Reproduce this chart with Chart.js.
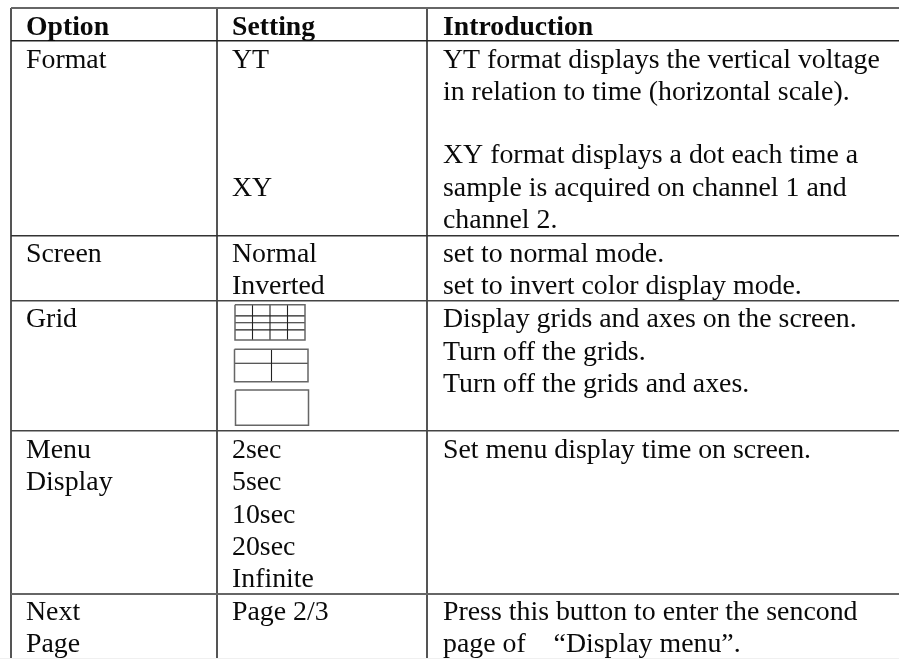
<!DOCTYPE html>
<html>
<head>
<meta charset="utf-8">
<title>Display menu</title>
<script src="https://cdn.jsdelivr.net/npm/chart.js@4/dist/chart.umd.min.js"></script>
<style>
  html, body { margin: 0; padding: 0; background: #f0f0f0; overflow: hidden; }
  canvas { display: block; background: #fff; }
</style>
</head>
<body>
<canvas id="menuTable" width="899" height="658"></canvas>
<script>
// How many text lines each table row takes, top to bottom
const rowNames = ['Header', 'Format', 'Screen', 'Grid', 'Menu Display', 'Next Page'];
const rowLineCounts = [1, 6, 2, 4, 5, 2];

// Where the baseline of each text line sits on the y axis
const lineBaselines = [0.83, 1.85, 2.83, 3.8, 4.77, 5.77, 6.77, 7.79, 8.79, 9.81, 10.81, 11.79, 12.8, 13.83, 14.81, 15.82, 16.81, 17.78, 18.8, 19.78];

// Text of each column and the line it sits on
const optionText = ['Option', 'Format', 'Screen', 'Grid', 'Menu', 'Display', 'Next', 'Page'];
const optionLines = [0, 1, 7, 9, 13, 14, 18, 19];
const settingText = ['Setting', 'YT', 'XY', 'Normal', 'Inverted', '2sec', '5sec', '10sec', '20sec', 'Infinite', 'Page 2/3'];
const settingLines = [0, 1, 5, 7, 8, 13, 14, 15, 16, 17, 18];
const introText = [
    'Introduction',
    'YT format displays the vertical voltage',
    'in relation to time (horizontal scale).',
    'XY format displays a dot each time a',
    'sample is acquired on channel 1 and',
    'channel 2.',
    'set to normal mode.',
    'set to invert color display mode.',
    'Display grids and axes on the screen.',
    'Turn off the grids.',
    'Turn off the grids and axes.',
    'Set menu display time on screen.',
    'Press this button to enter the sencond',
    'page of    \u201cDisplay menu\u201d.'
];
const introLines = [0, 1, 2, 4, 5, 6, 7, 8, 9, 10, 11, 13, 18, 19];

// Column rules on the x axis, measured from the table's left edge
const columnEdges = [0, 206, 416];
const columnTextX = [15, 221, 432];

// The three little grid pictures: left, right, top, bottom, inner verticals, inner horizontals
const gridIcons = [
    [224, 294, 9.115, 10.2, [241.5, 259, 276.5], [9.46, 9.67, 9.89]],
    [223.5, 297, 10.485, 11.48, [260.5], [10.915]],
    [224.5, 297.5, 11.735, 12.82, [], []]
];

const rowEdges = [0];
rowLineCounts.forEach((n, i) => rowEdges.push(rowEdges[i] + n));
rowEdges.pop();

function textPoints(texts, lines, x) {
    return texts.map((t, i) => ({ x: x, y: lineBaselines[lines[i]], text: t, bold: lines[i] === 0 }));
}

function iconFrame(icon) {
    const [l, r, t, b] = icon;
    return [{ x: l, y: t }, { x: r, y: t }, { x: r, y: b }, { x: l, y: b }, { x: l, y: t }];
}

function iconDividers(icon) {
    const [l, r, t, b, vs, hs] = icon;
    const pts = [];
    vs.forEach(v => pts.push({ x: v, y: t }, { x: v, y: b }, { x: null, y: null }));
    hs.forEach(h => pts.push({ x: l, y: h }, { x: r, y: h }, { x: null, y: null }));
    return pts;
}

// Writes each text dataset's words at its points
const cellText = {
    id: 'cellText',
    afterDatasetsDraw(chart) {
        const ctx = chart.ctx;
        ctx.save();
        ctx.fillStyle = '#0a0a0a';
        ctx.textAlign = 'left';
        ctx.textBaseline = 'alphabetic';
        chart.data.datasets.forEach((ds, i) => {
            if (!ds.isText) return;
            chart.getDatasetMeta(i).data.forEach((pt, j) => {
                const item = ds.data[j];
                ctx.font = item.bold ? 'bold 27.7px "Liberation Serif"' : '27.85px "Liberation Serif"';
                ctx.fillText(item.text, pt.x, pt.y);
            });
        });
        ctx.restore();
    }
};

const datasets = [
    { isText: true, data: textPoints(optionText, optionLines, columnTextX[0]), pointRadius: 0 },
    { isText: true, data: textPoints(settingText, settingLines, columnTextX[1]), pointRadius: 0 },
    { isText: true, data: textPoints(introText, introLines, columnTextX[2]), pointRadius: 0 }
];
gridIcons.forEach(icon => {
    datasets.push({ data: iconFrame(icon), showLine: true, borderColor: '#666', borderWidth: 1.5, pointRadius: 0 });
    datasets.push({ data: iconDividers(icon), showLine: true, spanGaps: false, borderColor: '#222', borderWidth: 1.1, pointRadius: 0 });
});

// Top rule and the one above Next Page are paler and heavier in the original
const ruleColors = ['#666', '#222', '#333', '#444', '#444', '#666'];
const ruleWidths = [2, 1.5, 1.5, 1.5, 1.5, 2];

new Chart(document.getElementById('menuTable'), {
    type: 'scatter',
    data: { datasets: datasets },
    plugins: [cellText],
    options: {
        responsive: false,
        animation: false,
        layout: { padding: { left: 11, top: 8, right: 0, bottom: 0 } },
        plugins: { legend: { display: false }, tooltip: { enabled: false } },
        scales: {
            x: {
                type: 'linear',
                min: 0,
                max: 888,
                border: { display: false },
                grid: { color: '#555', lineWidth: 2, drawTicks: false },
                ticks: { display: false, autoSkip: false },
                afterBuildTicks: axis => { axis.ticks = columnEdges.map(v => ({ value: v })); }
            },
            y: {
                type: 'linear',
                reverse: true,
                min: 0,
                max: 19.97,
                border: { display: false },
                grid: {
                    color: ctx => ruleColors[ctx.index],
                    lineWidth: ctx => ruleWidths[ctx.index],
                    drawTicks: false
                },
                ticks: { display: false, autoSkip: false },
                afterBuildTicks: axis => { axis.ticks = rowEdges.map(v => ({ value: v })); }
            }
        }
    }
});
</script>
</body>
</html>
